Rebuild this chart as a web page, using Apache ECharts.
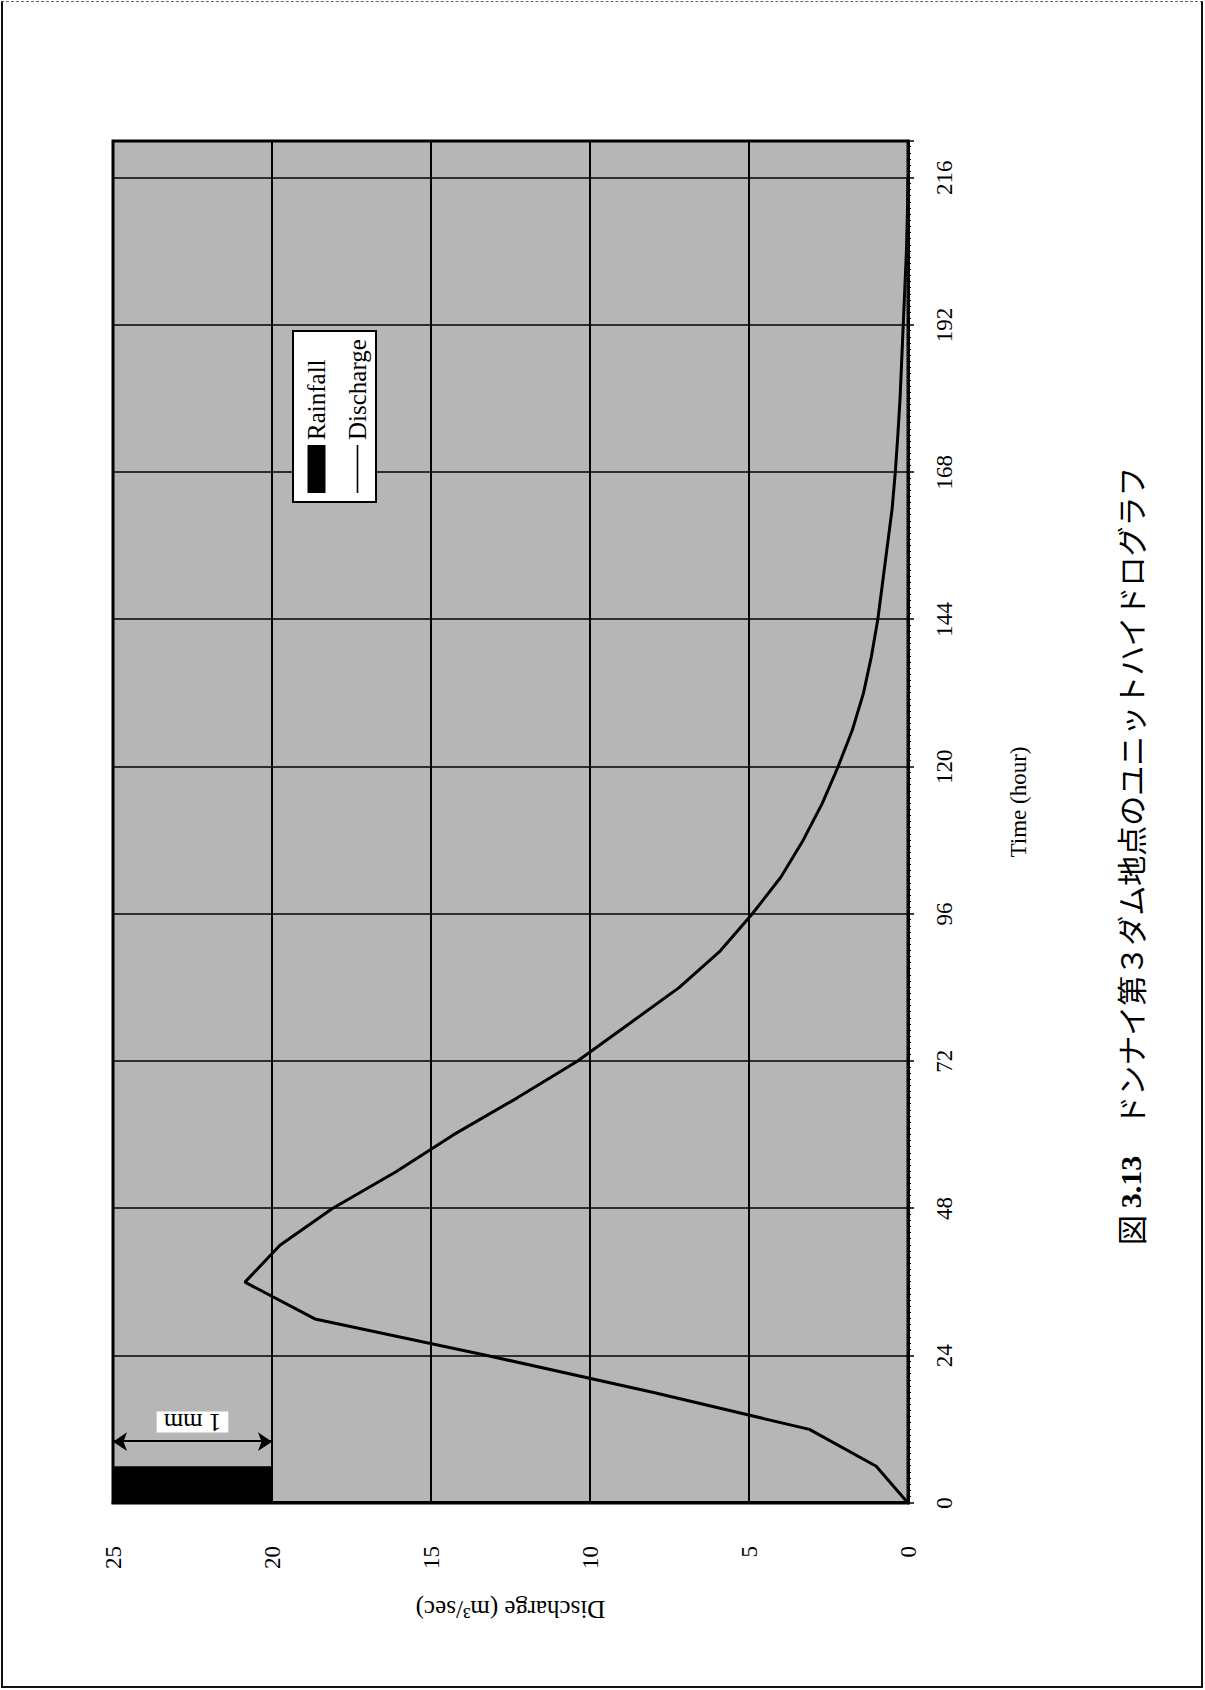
<!DOCTYPE html>
<html>
<head>
<meta charset="utf-8">
<script src="https://cdn.jsdelivr.net/npm/echarts@6/dist/echarts.min.js"></script>
<style>
  html, body { margin: 0; padding: 0; background: #fff; }
  #page { position: relative; width: 1205px; height: 1690px; overflow: hidden; background: #fff; }
  #frame { position: absolute; left: 1px; top: 1px; width: 1202px; height: 1687px; box-sizing: border-box;
           border-left: 2px solid #111; border-right: 2px solid #111; border-bottom: 2px solid #111;
           border-top: 1px dashed #666; pointer-events: none; }
  /* the figure is laid out landscape and turned a quarter turn onto the portrait page */
  #chart { position: absolute; left: 0; top: 0; width: 1690px; height: 1205px;
           transform-origin: 0 0; transform: translate(0, 1690px) rotate(-90deg); }
</style>
</head>
<body>
<div id="page"><div id="chart"></div><div id="frame"></div></div>
<script>
// Unit hydrograph at the Dong Nai No.3 dam site
const timeHours = [0, 6, 12, 18, 24, 30, 36, 42, 48, 54, 60, 66, 72, 78, 84, 90, 96, 102, 108, 114,
                   120, 126, 132, 138, 144, 150, 156, 162, 168, 174, 180, 186, 192, 198, 204, 210, 216];
const discharge = [0, 1.0, 3.1, 8.0, 13.2, 18.65, 20.85, 19.75, 18.1, 16.1, 14.3, 12.3, 10.4, 8.8, 7.2, 5.9, 4.9, 4.0, 3.3, 2.7,
                   2.2, 1.75, 1.4, 1.15, 0.95, 0.8, 0.65, 0.5, 0.4, 0.32, 0.25, 0.2, 0.15, 0.1, 0.05, 0.02, 0];

// effective rainfall block (hour from, hour to, depth in mm)
const rainStart = [0];
const rainEnd = [6];
const rainDepth = [1];

// axis ranges and tick steps
const timeMax = 222;
const timeStep = 24;
const dischargeMax = 25;
const dischargeStep = 5;
const rainAxisMax = 5;

// scale bar for 1 mm of rainfall
const scaleBarHour = 10;
const scaleLabelHour = 13.2;
const scaleLabelText = '1 mm';

const titleText = '図 {b|3.13}\u3000ドンナイ第３ダム地点のユニットハイドログラフ';

const serif = 'Liberation Serif';
const chart = echarts.init(document.getElementById('chart'), null, { renderer: 'svg' });

const rainData = rainStart.map((s, i) => [s, rainEnd[i], rainDepth[i]]);
const flowData = timeHours.map((t, i) => [t, discharge[i]]);

chart.setOption({
  animation: false,
  backgroundColor: 'transparent',
  title: {
    text: titleText,
    left: 445,
    top: 1115,
    padding: 0,
    textStyle: {
      fontFamily: 'Noto Sans CJK JP',
      fontSize: 30,
      fontWeight: 'normal',
      color: '#000',
      rich: {
        b: { fontFamily: serif, fontWeight: 'bold', fontSize: 30, color: '#000' }
      }
    }
  },
  legend: {
    left: 1188,
    top: 293,
    orient: 'vertical',
    backgroundColor: '#fff',
    borderColor: '#000',
    borderWidth: 2,
    borderRadius: 0,
    padding: [11, 8, 6, 9],
    itemWidth: 48,
    itemHeight: 18,
    itemGap: 16,
    textStyle: { fontFamily: serif, fontSize: 25, color: '#000', lineHeight: 22 },
    data: [
      { name: 'Rainfall', icon: 'rect' },
      { name: 'Discharge', icon: 'path://M0,0L0.01,0M0,8.2L48,8.2L48,9.8L0,9.8ZM47.99,18L48,18' }
    ]
  },
  grid: {
    left: 187, top: 113, width: 1362, height: 795,
    show: true, backgroundColor: '#b6b6b6', borderColor: '#000', borderWidth: 3
  },
  xAxis: {
    type: 'value',
    min: 0, max: timeMax, interval: timeStep,
    name: 'Time (hour)',
    nameLocation: 'middle',
    nameGap: 99,
    nameTextStyle: { fontFamily: serif, fontSize: 23, color: '#000', padding: [0, 0, 0, 40] },
    axisLine: { show: true, onZero: false, lineStyle: { color: '#000', width: 3 } },
    axisTick: { show: true, length: 6, lineStyle: { color: '#000', width: 1.5 } },
    minorTick: { show: true, splitNumber: timeStep, length: 3, lineStyle: { color: '#000', width: 1 } },
    axisLabel: { fontFamily: serif, fontSize: 23, color: '#000', margin: 25, showMaxLabel: false },
    splitLine: { show: true, lineStyle: { color: '#000', width: 1.5 } }
  },
  yAxis: [
    {
      type: 'value',
      min: 0, max: dischargeMax, interval: dischargeStep,
      position: 'left',
      name: 'Discharge (m³/sec)',
      nameLocation: 'middle',
      nameRotate: 90,
      nameGap: 94,
      nameTextStyle: { fontFamily: serif, fontSize: 25, color: '#000' },
      axisLine: { show: true, onZero: false, lineStyle: { color: '#000', width: 3 } },
      axisTick: { show: false },
      axisLabel: { fontFamily: serif, fontSize: 23, color: '#000', margin: 43 },
      splitLine: { show: true, lineStyle: { color: '#000', width: 2 } }
    },
    {
      type: 'value',
      min: 0, max: rainAxisMax,
      inverse: true,
      position: 'right',
      show: false,
      splitLine: { show: false }
    }
  ],
  series: [
    {
      name: 'Rainfall',
      type: 'custom',
      yAxisIndex: 1,
      itemStyle: { color: '#000' },
      encode: { x: [0, 1], y: 2 },
      data: rainData,
      renderItem: function (params, api) {
        const p0 = api.coord([api.value(0), 0]);
        const p1 = api.coord([api.value(1), api.value(2)]);
        return {
          type: 'rect',
          shape: {
            x: Math.min(p0[0], p1[0]), y: Math.min(p0[1], p1[1]),
            width: Math.abs(p1[0] - p0[0]), height: Math.abs(p1[1] - p0[1])
          },
          style: { fill: '#000' }
        };
      },
      markLine: {
        silent: true,
        symbol: ['arrow', 'arrow'],
        symbolSize: 14,
        label: { show: false },
        lineStyle: { color: '#000', width: 2, type: 'solid' },
        data: [[{ coord: [scaleBarHour, 0] }, { coord: [scaleBarHour, rainDepth[0]] }]]
      },
      z: 3
    },
    {
      name: 'Discharge',
      type: 'line',
      yAxisIndex: 0,
      data: flowData,
      symbol: 'none',
      color: '#000',
      lineStyle: { color: '#000', width: 3 },
      z: 4
    }
  ]
});

// "1 mm" tag beside the scale bar, placed through the rainfall axis
const tagPos = chart.convertToPixel({ xAxisIndex: 0, yAxisIndex: 1 }, [scaleLabelHour, rainDepth[0] / 2]);
chart.setOption({
  graphic: [{
    type: 'text',
    x: tagPos[0],
    y: tagPos[1],
    rotation: Math.PI / 2,
    z: 10,
    style: {
      text: scaleLabelText,
      fill: '#000',
      font: '25px "Liberation Serif"',
      align: 'center',
      verticalAlign: 'middle',
      backgroundColor: '#fff',
      padding: [0, 7],
      lineHeight: 21
    }
  }]
});
</script>
</body>
</html>
